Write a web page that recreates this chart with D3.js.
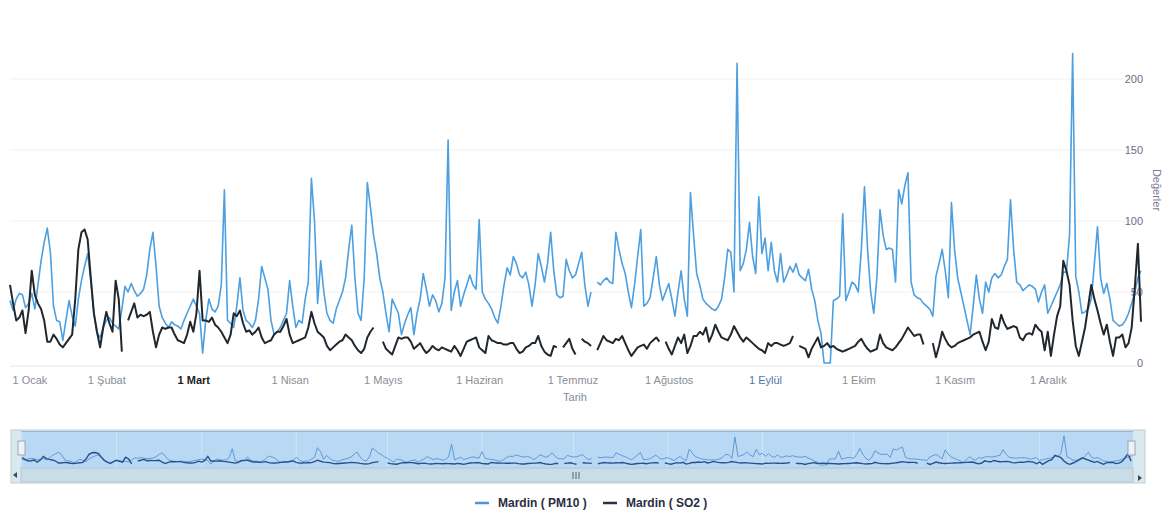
<!DOCTYPE html>
<html>
<head>
<meta charset="utf-8">
<script src="https://cdn.jsdelivr.net/npm/d3@7"></script>
<style>
  body { margin: 0; background: #fff; }
  svg { font-family: "Liberation Sans", Arial, sans-serif; }
</style>
</head>
<body>
<div id="chart"></div>
<script>
let width = 1167,
    height = 519;

// daily values, 1 Ocak .. 31 Aralık (null = no measurement)
let pm10 = [
  44,37,45,49,48,39,42,49,38,55,
  72,85,95,78,40,30,29,16,30,44,
  33,26,45,58,68,77,58,35,21,18,
  25,30,32,28,26,24,38,54,50,56,
  51,47,49,52,62,80,92,68,40,32,
  28,25,29,27,26,24,30,35,40,45,
  40,35,7,30,45,38,36,40,55,122,
  30,28,25,40,60,37,30,28,25,30,
  45,68,60,52,30,20,22,25,30,35,
  58,40,25,30,28,45,57,130,100,42,
  72,50,35,30,28,38,44,50,60,80,
  97,60,35,30,60,127,110,90,77,60,
  50,35,22,45,40,35,20,28,34,39,
  20,35,45,63,52,40,48,44,36,42,
  60,157,37,50,58,40,48,55,62,55,
  52,101,50,45,42,38,32,28,40,55,
  67,62,75,70,62,60,64,55,40,55,
  77,68,57,70,92,65,48,46,47,73,
  65,60,62,70,78,55,40,50,null,57,
  55,58,60,57,56,92,80,70,63,50,
  39,55,75,94,40,42,46,60,75,55,
  44,50,56,45,33,50,65,45,33,120,
  90,63,55,45,42,40,38,37,40,45,
  60,80,78,50,211,65,70,80,99,75,
  63,117,77,88,65,85,65,57,77,57,
  62,68,64,70,62,60,58,66,52,44,
  30,21,0,0,0,44,45,47,105,44,
  50,57,55,50,80,124,80,50,35,60,
  108,90,80,81,80,57,122,112,125,134,
  57,48,46,45,42,40,38,33,61,70,
  80,65,46,113,80,60,50,40,30,20,
  40,62,45,35,57,50,60,63,60,62,
  68,73,115,80,57,55,51,53,55,54,
  52,43,50,55,35,40,45,50,55,64,
  64,90,218,61,50,35,36,38,45,70,
  96,60,49,56,45,30,28,26,27,30,
  35,42,50,60,65
];

let so2 = [
  55,42,30,32,37,21,37,65,48,42,
  38,30,15,15,20,17,13,11,14,17,
  20,45,80,92,94,87,60,35,22,11,
  25,36,28,22,58,45,8,null,30,36,
  42,32,34,33,34,36,22,11,20,25,
  24,25,25,20,16,15,14,20,29,22,
  35,65,30,30,29,32,27,25,22,18,
  14,20,35,33,37,28,22,23,20,22,
  25,18,14,15,16,20,22,22,26,31,
  20,14,15,16,17,18,25,36,28,22,
  20,18,12,9,11,13,15,16,20,18,
  16,12,9,7,10,18,22,25,null,null,
  15,10,8,6,12,18,17,18,18,15,
  10,12,14,10,7,9,12,10,9,11,
  10,9,8,12,9,5,10,15,16,17,
  18,11,9,7,19,16,15,14,14,13,
  13,14,14,10,7,8,11,12,14,14,
  19,12,8,6,5,12,11,null,11,14,
  17,10,6,null,17,15,14,12,null,9,
  14,19,16,15,14,17,16,19,14,9,
  5,8,11,12,13,10,14,16,18,15,
  null,15,10,6,12,18,14,20,7,12,
  19,19,22,20,25,15,20,27,22,18,
  17,16,20,26,22,18,15,18,16,14,
  12,10,9,7,14,12,14,14,13,12,
  13,14,19,null,12,11,10,4,10,14,
  18,11,12,14,11,12,10,9,8,9,
  10,11,12,15,17,13,10,8,9,10,
  20,14,11,10,9,11,14,17,21,25,
  22,19,20,20,13,null,null,14,4,12,
  22,17,13,11,12,14,15,16,17,18,
  20,21,22,15,9,15,31,25,24,34,
  28,24,25,26,25,18,16,20,21,20,
  27,24,22,9,22,5,20,33,40,72,
  65,55,30,12,5,15,25,40,55,45,
  37,28,20,27,15,5,18,18,20,11,
  14,25,53,84,29
];

let monthLabels = ["1 Ocak", "1 Şubat", "1 Mart", "1 Nisan", "1 Mayıs", "1 Haziran",
                   "1 Temmuz", "1 Ağustos", "1 Eylül", "1 Ekim", "1 Kasım", "1 Aralık"];
let yTicks = [0, 50, 100, 150, 200];
let seriesNames = ["Mardin ( PM10 )", "Mardin ( SO2 )"];

let start = new Date(2015, 0, 1);
let days = pm10.map((v, i) => d3.timeDay.offset(start, i));
let months = d3.timeMonth.range(start, new Date(2016, 0, 1));

let pmColor = "#4c9fe0",
    soColor = "#20272d";

let svg = d3.select("#chart")
            .append("svg")
            .attr("width", width)
            .attr("height", height);

// ----- SCALES -----
let xScale = d3.scaleTime()
    .domain([start, days[days.length - 1]])
    .range([10, 1141]);

let yScale = d3.scaleLinear()
    .domain([0, 200])
    .range([363, 79]);

// ----- GRID -----
svg.append("g")
    .selectAll("line")
    .data(yTicks.slice(1))
    .join("line")
    .attr("x1", 10).attr("x2", 1141)
    .attr("y1", d => yScale(d)).attr("y2", d => yScale(d))
    .attr("stroke", "#f1f1f1");

svg.append("line")
    .attr("x1", 10).attr("x2", 1141)
    .attr("y1", 366).attr("y2", 366)
    .attr("stroke", "#e4e6ea");

// ----- AXES -----
let xAxis = svg.append("g")
    .attr("transform", "translate(0,366)")
    .call(d3.axisBottom(xScale)
        .tickValues(months)
        .tickSize(0)
        .tickPadding(10)
        .tickFormat((d, i) => monthLabels[i]));
xAxis.select(".domain").remove();
xAxis.selectAll("text")
    .style("font-size", "11px")
    .attr("fill", (d, i) => i === 2 ? "#222" : (i === 8 ? "#5575a8" : "#8a8d96"))
    .style("font-weight", (d, i) => i === 2 ? "bold" : "normal");
xAxis.select(".tick text").attr("text-anchor", "start").attr("x", 2);

let yAxis = svg.append("g")
    .attr("transform", "translate(1143,0)")
    .call(d3.axisRight(yScale).tickValues(yTicks).tickSize(0));
yAxis.select(".domain").remove();
yAxis.selectAll("text")
    .attr("x", 0)
    .attr("text-anchor", "end")
    .attr("fill", "#6c6d8c")
    .style("font-size", "11px");

// ----- AXIS LABELS -----
svg.append("text")
    .attr("x", 575)
    .attr("y", 401)
    .attr("text-anchor", "middle")
    .attr("fill", "#7f8aa0")
    .style("font-size", "11px")
    .text("Tarih");

svg.append("text")
    .attr("transform", "translate(1153,190) rotate(90)")
    .attr("text-anchor", "middle")
    .attr("fill", "#7a7c98")
    .style("font-size", "11px")
    .text("Değerler");

// ----- LINES -----
let line = d3.line()
    .defined(d => d[1] !== null)
    .x(d => xScale(d[0]))
    .y(d => yScale(d[1]));

svg.append("path")
    .datum(days.map((d, i) => [d, pm10[i]]))
    .attr("d", line)
    .attr("fill", "none")
    .attr("stroke", pmColor)
    .attr("stroke-width", 1.6)
    .attr("stroke-linejoin", "round");

svg.append("path")
    .datum(days.map((d, i) => [d, so2[i]]))
    .attr("d", line)
    .attr("fill", "none")
    .attr("stroke", soColor)
    .attr("stroke-width", 2)
    .attr("stroke-linejoin", "round");

// ----- NAVIGATOR -----
let nav = svg.append("g");

nav.append("rect")
    .attr("x", 11).attr("y", 430).attr("width", 1134).attr("height", 53)
    .attr("fill", "#dae8f0").attr("stroke", "#c2ccd4");

nav.append("rect")
    .attr("x", 21).attr("y", 431).attr("width", 1112).attr("height", 37)
    .attr("fill", "#b8d8f4");

nav.append("line")
    .attr("x1", 21).attr("x2", 1133).attr("y1", 431.5).attr("y2", 431.5)
    .attr("stroke", "#93b8dc");

let navX = d3.scaleTime()
    .domain(xScale.domain())
    .range([22, 1131]);

let navY = d3.scaleLinear()
    .domain([0, 218])
    .range([465, 436]);

nav.append("g")
    .selectAll("line")
    .data(months)
    .join("line")
    .attr("x1", d => navX(d)).attr("x2", d => navX(d))
    .attr("y1", 432).attr("y2", 468)
    .attr("stroke", "#ffffff").attr("stroke-opacity", 0.35);

let navLine = d3.line()
    .defined(d => d[1] !== null)
    .x(d => navX(d[0]))
    .y(d => navY(d[1]));

nav.append("path")
    .datum(days.map((d, i) => [d, pm10[i]]))
    .attr("d", navLine)
    .attr("fill", "none")
    .attr("stroke", "#5d9bd6")
    .attr("stroke-width", 1);

nav.append("path")
    .datum(days.map((d, i) => [d, so2[i]]))
    .attr("d", navLine)
    .attr("fill", "none")
    .attr("stroke", "#2a4f8c")
    .attr("stroke-width", 1.4);

// scrollbar
nav.append("rect")
    .attr("x", 21).attr("y", 468).attr("width", 1112).attr("height", 14)
    .attr("fill", "#c9dde9").attr("stroke", "#b3c6d3");

nav.selectAll(".grip")
    .data([-3, 0, 3])
    .join("line")
    .attr("x1", d => 576 + d).attr("x2", d => 576 + d)
    .attr("y1", 472).attr("y2", 479)
    .attr("stroke", "#556677");

nav.append("path")
    .attr("d", "M17,472 L13,475 L17,478 Z")
    .attr("fill", "#445");
nav.append("path")
    .attr("d", "M1138,475 L1142,478 L1138,481 Z")
    .attr("fill", "#445");

// handles
nav.selectAll(".handle")
    .data([18, 1128])
    .join("rect")
    .attr("x", d => d).attr("y", 441).attr("width", 7).attr("height", 14)
    .attr("fill", "#eef2f5").attr("stroke", "#9aa7b2");

// ----- LEGEND -----
let legend = svg.append("g")
    .selectAll("g")
    .data([[475, pmColor], [603, soColor]])
    .join("g")
    .attr("transform", d => `translate(${d[0]},503)`);

legend.append("line")
    .attr("x1", 0).attr("x2", 14)
    .attr("stroke", d => d[1] === pmColor ? "#4b97da" : "#2c2f48")
    .attr("stroke-width", 2.5);

legend.append("text")
    .attr("x", 23)
    .attr("y", 4)
    .attr("fill", "#2b2d45")
    .style("font-size", "12px")
    .style("font-weight", "bold")
    .text((d, i) => seriesNames[i]);
</script>
</body>
</html>
